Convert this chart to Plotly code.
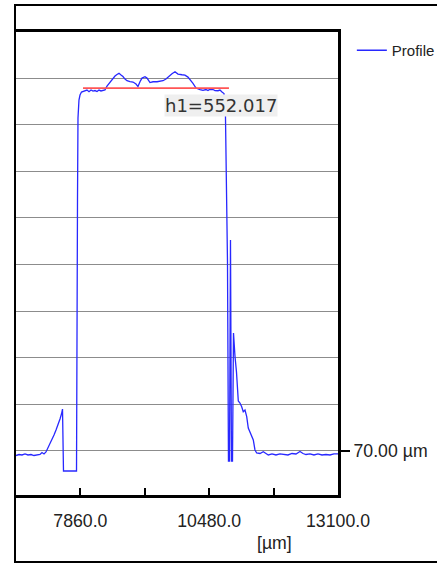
import plotly.graph_objects as go

# ---- data ----
profile_x = [6550, 6611, 6672, 6733, 6794, 6855, 6916, 6977, 7038, 7079, 7120, 7160,
             7201, 7242, 7282, 7323, 7364, 7404, 7445, 7475, 7496, 7516, 7648, 7781,
             7801, 7811, 7831, 7852, 7882,
             7933, 7994, 8035, 8076, 8116, 8157, 8198, 8238, 8279, 8320, 8360,
             8401, 8462, 8523, 8564, 8604, 8645, 8686, 8726, 8767, 8808, 8869, 8930,
             8991, 9031, 9072, 9113, 9174, 9215, 9276, 9337, 9418, 9479, 9540, 9601,
             9662, 9723, 9784, 9845, 9926, 9987, 10048, 10089, 10150, 10211, 10252,
             10293, 10354, 10415, 10455, 10496, 10557, 10598, 10659, 10699, 10740,
             10781, 10811, 10852, 10872, 10893, 10913, 10933, 10954, 10974, 11004,
             11035, 11072, 11106, 11141, 11173, 11208, 11243, 11275, 11310, 11344,
             11377, 11411, 11446, 11513, 11580, 11635, 11682, 11757, 11838, 11920,
             12001, 12082, 12164, 12245, 12327, 12388, 12449, 12530, 12611, 12693,
             12774, 12855, 12937, 13018, 13100]
profile_y = [63.2, 64.7, 64.0, 65.5, 64.0, 64.7, 63.2, 64.0, 64.7, 67.7, 65.5, 68.5,
             74.5, 80.5, 86.5, 94.0, 101.5, 109.0, 118.0, 125.5, 133.0, 39.9, 39.9, 39.9,
             446.8, 569.9, 596.9, 604.4, 608.9,
             610.4, 611.9, 609.5, 612.0, 610.4, 611.2, 609.8, 611.9, 610.6, 611.5, 612.2,
             617.9, 623.9, 629.9, 632.9, 635.2, 637.0, 634.4, 632.2, 628.4, 625.9, 624.7, 624.0,
             620.9, 617.2, 624.4, 629.9, 631.9, 629.9, 623.2, 624.4, 624.4, 625.4, 625.9, 628.4,
             632.9, 636.5, 639.4, 635.9, 634.9, 634.4, 631.4, 628.0, 622.0, 614.9, 613.4,
             612.7, 611.5, 612.7, 611.2, 613.1, 612.7, 611.2, 610.9, 611.9, 608.9,
             606.7, 572.9, 353.7, 54.9, 54.9, 386.7, 54.9, 54.9, 247.1, 212.6,
             188.6, 145.0, 142.0, 136.5, 129.0, 131.5, 121.5, 104.5, 98.9, 94.0,
             86.5, 71.5, 67.0, 66.2, 68.8, 66.2, 64.0, 65.5, 64.0, 65.5,
             64.7, 64.0, 66.2, 65.5, 69.2, 66.2, 64.7, 65.5, 64.0, 65.5,
             64.0, 64.7, 64.0, 65.5, 65.5]

h1_x = [7913, 10882]
h1_y = [614.9, 614.9]
h1_label = "h1=552.017"

x_tickvals = [6550, 7860, 9170, 10480, 11790, 13100]
x_ticktext = ["", "7860.0", "", "10480.0", "", "13100.0"]
y_gridvals = [140, 210, 280, 350, 420, 490, 560, 630]
y_tickvals = [70]
y_ticktext = ["70.00 µm"]

TICKFONT = dict(family="Liberation Sans, Arial, sans-serif", size=17.7, color="#222222")

fig = go.Figure()
fig.add_trace(go.Scatter(x=profile_x, y=profile_y, mode="lines", name="Profile",
                         line=dict(color="rgb(40,40,255)", width=1.3)))
fig.add_trace(go.Scatter(x=h1_x, y=h1_y, mode="lines", name="h1", showlegend=False,
                         line=dict(color="rgb(255,85,85)", width=1.6)))

fig.update_layout(
    width=437, height=563,
    margin=dict(l=16, r=99, t=32, b=68, autoexpand=False),
    paper_bgcolor="white", plot_bgcolor="white",
    showlegend=True,
    legend=dict(x=1.043, y=0.9957, xanchor="left", yanchor="top",
                font=dict(family="Liberation Sans, Arial, sans-serif", size=15, color="#222222"),
                bgcolor="rgba(0,0,0,0)", borderwidth=0),
    xaxis=dict(range=[6550, 13100], tickvals=x_tickvals, ticktext=x_ticktext,
               ticks="inside", ticklen=7, tickwidth=2, tickcolor="black",
               showline=True, linewidth=3, linecolor="black", mirror=True,
               showgrid=False, zeroline=False, tickfont=TICKFONT, ticklabelstandoff=8,
               automargin=False),
    yaxis=dict(range=[3.9, 699.1], side="right", tickvals=y_tickvals, ticktext=y_ticktext,
               ticks="outside", ticklen=9, tickwidth=2, tickcolor="black",
               showline=True, linewidth=3, linecolor="black",
               showgrid=True, gridcolor="#8c8c8c", gridwidth=1, zeroline=False,
               tickfont=TICKFONT, automargin=False,
               minor=dict(tickvals=y_gridvals, showgrid=True, gridcolor="#8c8c8c",
                          gridwidth=1, ticks="")),
)

# outer frame
fig.add_shape(type="rect", xref="paper", yref="paper",
              x0=-0.0031, x1=1.6, y0=-0.1447, y1=1.0583,
              line=dict(color="black", width=2), fillcolor="rgba(0,0,0,0)", layer="above")

fig.add_annotation(x=10730, y=588, xref="x", yref="y", text=h1_label, showarrow=False,
                   font=dict(family="DejaVu Sans", size=18, color="#333333"),
                   bgcolor="#efefef", borderpad=0, xanchor="center", yanchor="middle")
fig.add_annotation(x=0.804, y=-0.1037, xref="paper", yref="paper", text="[µm]",
                   showarrow=False, font=TICKFONT, xanchor="center", yanchor="middle")

fig.write_html("out.html", config={"displayModeBar": False},
               post_script="document.body.style.margin='0';document.body.style.overflow='hidden';")
